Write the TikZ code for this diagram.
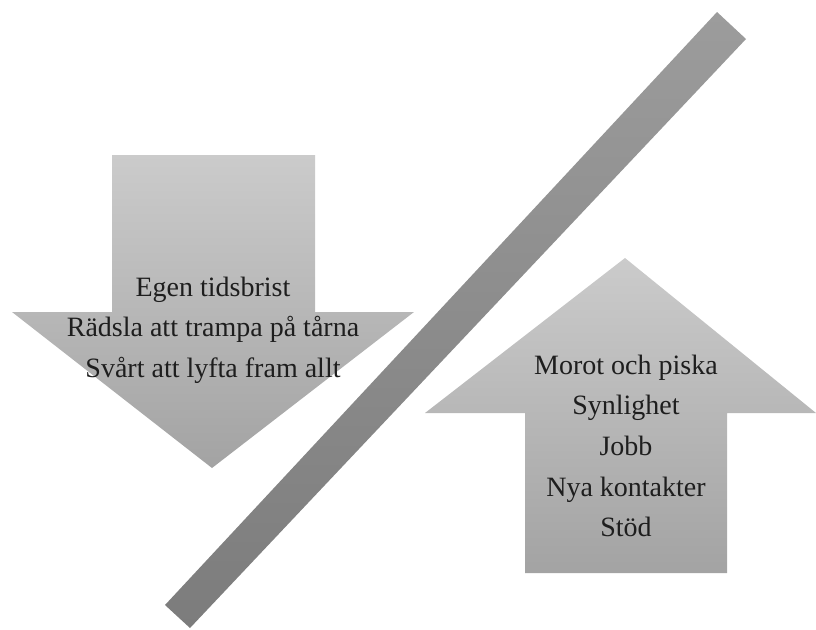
\documentclass[tikz,border=0pt]{standalone}
\usepackage{fontspec}
\setmainfont{Liberation Serif}
\usetikzlibrary{positioning}
\definecolor{arrowtop}{HTML}{CBCBCB}
\definecolor{arrowbot}{HTML}{A3A3A3}
\definecolor{bartop}{HTML}{9C9C9C}
\definecolor{barbot}{HTML}{7C7C7C}
\definecolor{ink}{HTML}{1E1E1E}

\begin{document}
\begin{tikzpicture}[x=0.75pt,y=-0.75pt,
  blockarrow/.style={top color=arrowtop,bottom color=arrowbot,draw=none},
  itemtext/.style={font=\fontsize{21}{30.5}\selectfont,text=ink,align=center,inner sep=0pt}]
\useasboundingbox (0,0) rectangle (816,629);
% down arrow (hinder)
\path[blockarrow] (112,155) -- (315,155) -- (315,312) -- (414,312) -- (212,468)
  -- (12,312) -- (112,312) -- cycle;
% up arrow (drivkrafter)
\path[blockarrow] (525,573) -- (727,573) -- (727,413) -- (816,413) -- (625,258)
  -- (425,413) -- (525,413) -- cycle;
% the slash between them
\shade[top color=bartop,bottom color=barbot] (717,12) -- (746,39) -- (190,628)
  -- (165,605) -- cycle;
\node[itemtext] (hinder) at (213,330)
  {Egen tidsbrist\\Rädsla att trampa på tårna\\Svårt att lyfta fram allt};
\node[itemtext] (drivkraft) at (626,446)
  {Morot och piska\\Synlighet\\Jobb\\Nya kontakter\\Stöd};
\end{tikzpicture}
\end{document}
